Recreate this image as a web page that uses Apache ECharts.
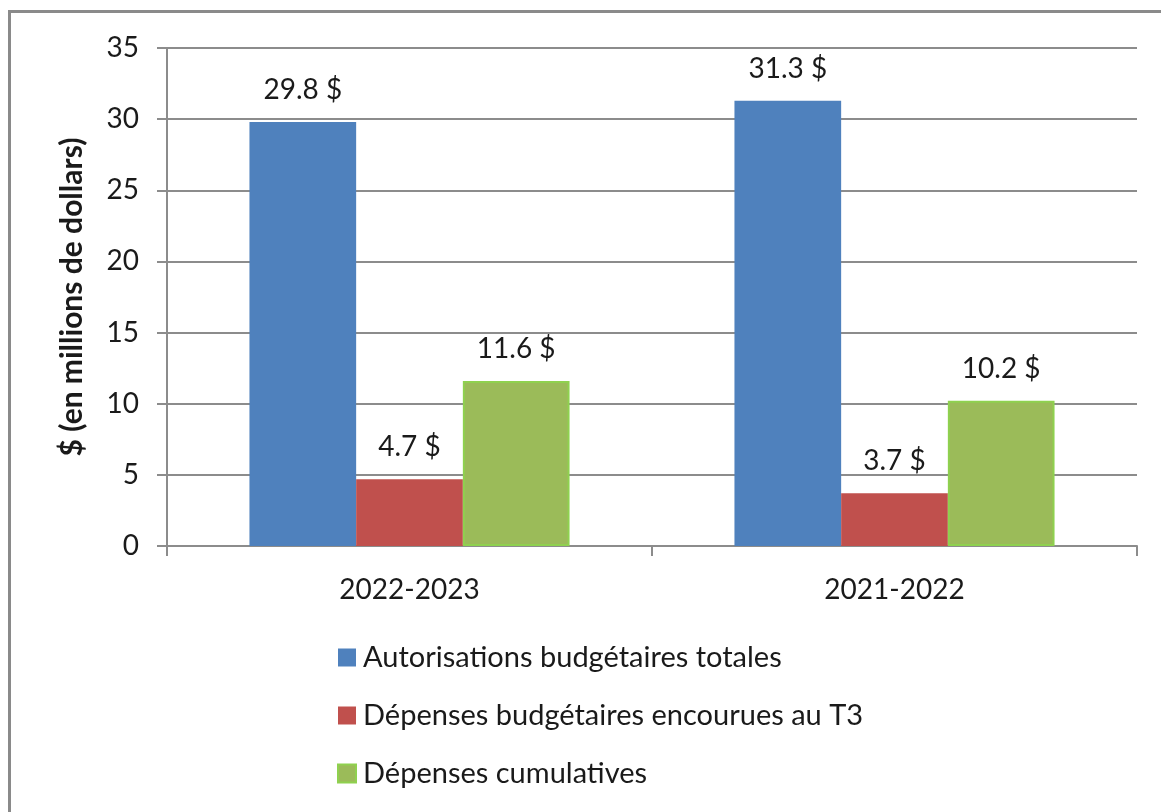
<!DOCTYPE html>
<html>
<head>
<meta charset="utf-8">
<script src="https://cdn.jsdelivr.net/npm/echarts@6/dist/echarts.min.js"></script>
<style>
  html, body { margin: 0; padding: 0; background: #fff; }
  #chart { width: 1161px; height: 812px; }
</style>
</head>
<body>
<div id="chart"></div>
<script>
const categories = ['2022-2023', '2021-2022'];
const seriesNames = [
  'Autorisations budgétaires totales',
  'Dépenses budgétaires encourues au T3',
  'Dépenses cumulatives'
];
const autorisations = [29.8, 31.3];
const depensesT3 = [4.7, 3.7];
const cumulatives = [11.6, 10.2];
const yTicks = [0, 5, 10, 15, 20, 25, 30, 35];

const font = 'Lato, "Open Sans", sans-serif';
const gridGray = '#8c8c8c';

const chart = echarts.init(document.getElementById('chart'));

function barSeries(name, data, color, border) {
  return {
    name: name,
    type: 'bar',
    data: data,
    barGap: '0%',
    barCategoryGap: '34%',
    itemStyle: {
      color: color,
      borderColor: border || color,
      borderWidth: border ? 2 : 0
    },
    label: {
      show: true,
      position: 'top',
      distance: 18,
      color: '#1a1a1a',
      fontFamily: font,
      fontSize: 28,
      formatter: p => p.value.toFixed(1) + ' $'
    }
  };
}

chart.setOption({
  animation: false,
  textStyle: { fontFamily: font },
  graphic: [{
    type: 'polyline',
    shape: { points: [[9.5, 812], [9.5, 11.5], [1161, 11.5]] },
    style: { stroke: '#8a8a8a', lineWidth: 3, fill: null }
  }],
  grid: { left: 167, right: 24, top: 48, bottom: 266 },
  legend: {
    orient: 'vertical',
    left: 337,
    top: 643,
    padding: 0,
    itemWidth: 18,
    itemHeight: 18,
    itemGap: 29,
    icon: 'rect',
    textStyle: { fontFamily: font, fontSize: 29, color: '#1a1a1a', padding: [0, 0, 0, 2] },
    data: seriesNames
  },
  xAxis: {
    type: 'category',
    data: categories,
    axisLine: { lineStyle: { color: gridGray, width: 2 } },
    axisTick: { show: true, length: 10, lineStyle: { color: gridGray, width: 2 } },
    axisLabel: { fontFamily: font, fontSize: 28, color: '#1a1a1a', margin: 30 }
  },
  yAxis: {
    type: 'value',
    min: yTicks[0],
    max: yTicks[yTicks.length - 1],
    interval: 5,
    name: '$ (en millions de dollars)',
    nameLocation: 'middle',
    nameGap: 80,
    nameTextStyle: { fontFamily: font, fontSize: 30, fontWeight: 'bold', color: '#1a1a1a' },
    axisLine: { show: true, lineStyle: { color: gridGray, width: 2 } },
    axisTick: { show: true, length: 10, lineStyle: { color: gridGray, width: 2 } },
    axisLabel: { fontFamily: font, fontSize: 28, color: '#1a1a1a', margin: 28 },
    splitLine: { lineStyle: { color: gridGray, width: 2 } }
  },
  series: [
    barSeries(seriesNames[0], autorisations, '#4f81bd'),
    barSeries(seriesNames[1], depensesT3, '#c0504d'),
    barSeries(seriesNames[2], cumulatives, '#9bbb59', '#8fd14f')
  ]
});
</script>
</body>
</html>
